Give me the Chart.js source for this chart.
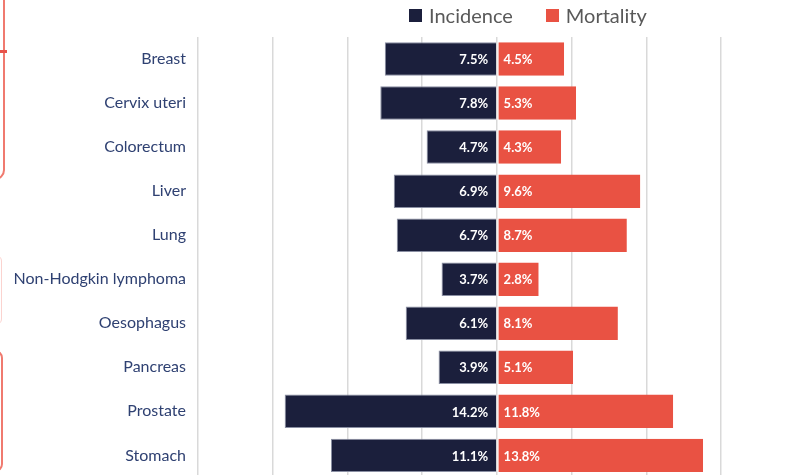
<!DOCTYPE html>
<html>
<head>
<meta charset="utf-8">
<script src="https://cdn.jsdelivr.net/npm/chart.js@4/dist/chart.umd.min.js"></script>
<style>
  html, body { margin: 0; padding: 0; background: #fff; overflow: hidden; }
  #wrap { position: relative; width: 787px; height: 499px; }
  #legend {
    position: absolute; top: 3px; left: 409px;
    font-family: Lato, "Open Sans", sans-serif; font-size: 20px; color: #595959;
    display: flex; align-items: center; white-space: nowrap;
  }
  .lg-item { display: flex; align-items: center; margin-right: 33px; }
  .lg-box { width: 13px; height: 13px; margin-right: 7px; }
  .deco { position: absolute; box-sizing: border-box; }
</style>
</head>
<body>
<div id="wrap">
  <div class="deco" style="left:-20px;top:-10px;width:25px;height:190px;border:2px solid #f07a6f;border-radius:0 0 10px 0;"></div>
  <div class="deco" style="left:0;top:50px;width:7px;height:3px;background:#e8534a;"></div>
  <div class="deco" style="left:-20px;top:255px;width:22px;height:70px;border:1px solid #fbd3cf;border-radius:0 6px 6px 0;"></div>
  <div class="deco" style="left:-20px;top:350px;width:23px;height:122px;border:2px solid #f07a6f;border-radius:0 8px 8px 0;"></div>
  <div id="legend"></div>
  <canvas id="chart" width="787" height="499" style="display:block;width:787px;height:499px"></canvas>
</div>
<script>
const CATEGORIES = ["Breast","Cervix uteri","Colorectum","Liver","Lung","Non-Hodgkin lymphoma","Oesophagus","Pancreas","Prostate","Stomach"];
const INCIDENCE  = [7.5, 7.8, 4.7, 6.9, 6.7, 3.7, 6.1, 3.9, 14.2, 11.1];
const MORTALITY  = [4.5, 5.3, 4.3, 9.6, 8.7, 2.8, 8.1, 5.1, 11.8, 13.8];
const X_MIN = -20, X_MAX = 15, X_STEP = 5;

const NAVY = "#1b1f3c";
const RED  = "#e95243";

// ── Value labels inside bars ───────────────────────────────────────────────
const barLabels = {
  id: "barLabels",
  afterDatasetsDraw(chart) {
    const ctx = chart.ctx;
    ctx.save();
    ctx.font = "bold 13px Lato, 'Open Sans', sans-serif";
    ctx.fillStyle = "#ffffff";
    ctx.textBaseline = "middle";
    chart.data.datasets.forEach((ds, di) => {
      const meta = chart.getDatasetMeta(di);
      meta.data.forEach((bar, i) => {
        const v = Math.abs(ds.data[i]).toFixed(1) + "%";
        if (ds.data[i] < 0) {
          ctx.textAlign = "right";
          ctx.fillText(v, bar.base - 8, bar.y + 1);
        } else {
          ctx.textAlign = "left";
          ctx.fillText(v, bar.base + 6, bar.y + 1);
        }
      });
    });
    ctx.restore();
  }
};

function buildLegend(chart) {
  const el = document.getElementById("legend");
  el.innerHTML = chart.data.datasets.map(ds =>
    `<div class="lg-item"><div class="lg-box" style="background:${ds.backgroundColor}"></div>${ds.label}</div>`
  ).join("");
}

const chart = new Chart(document.getElementById("chart").getContext("2d"), {
  type: "bar",
  data: {
    labels: CATEGORIES,
    datasets: [
      { label: "Incidence", data: INCIDENCE.map(v => -v), backgroundColor: NAVY,
        borderColor: "#8a8fa3", borderWidth: { top: 1, bottom: 1, left: 1, right: 0 }, borderSkipped: false },
      { label: "Mortality", data: MORTALITY, backgroundColor: RED,
        borderColor: "#ffffff", borderWidth: { left: 1, top: 0, bottom: 0, right: 0 }, borderSkipped: false },
    ],
  },
  options: {
    indexAxis: "y",
    responsive: false,
    animation: false,
    devicePixelRatio: 1,
    layout: { padding: { top: 37, right: 66, bottom: 0, left: 0 } },
    plugins: { legend: { display: false }, tooltip: { enabled: false } },
    datasets: { bar: { categoryPercentage: 0.76, barPercentage: 1.0 } },
    scales: {
      x: {
        stacked: true, min: X_MIN, max: X_MAX,
        afterFit(scale) { scale.height = 0; },
        ticks: { display: false, stepSize: X_STEP },
        grid: { color: "#d9d9d9", lineWidth: 1.5, drawTicks: false },
        border: { display: false },
      },
      y: {
        stacked: true,
        afterFit(scale) { scale.width = 198; },
        ticks: { color: "#2f4172", padding: 12, font: { family: "Lato, 'Open Sans', sans-serif", size: 16 } },
        grid: { display: false, drawTicks: false },
        border: { display: false },
      },
    },
  },
  plugins: [barLabels],
});

buildLegend(chart);
</script>
</body>
</html>
